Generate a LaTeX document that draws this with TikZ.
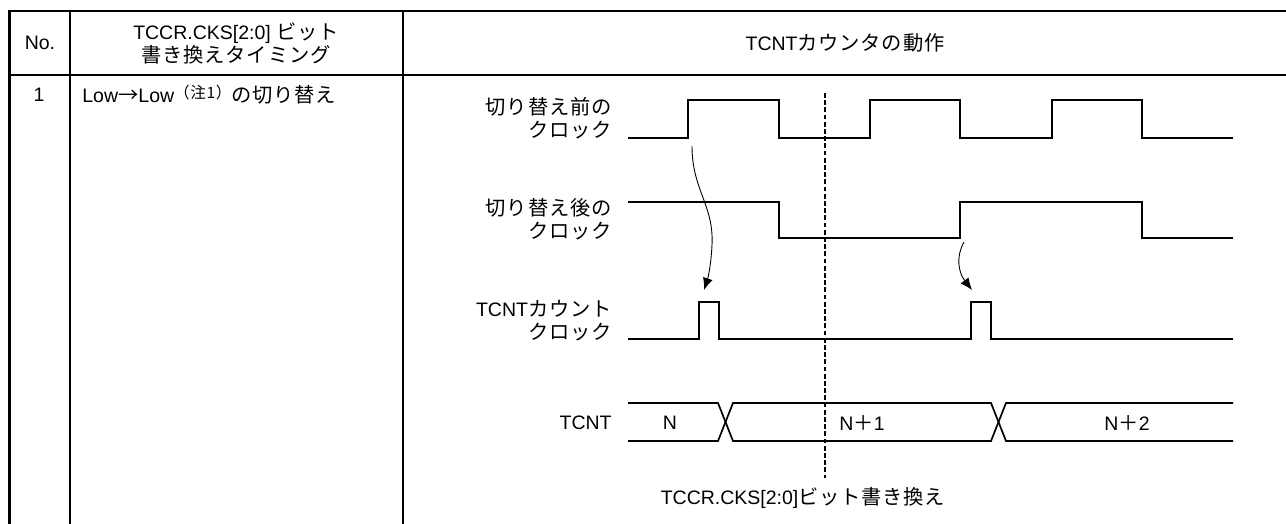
\documentclass[tikz,border=0pt]{standalone}
\usepackage{fontspec}
\setmainfont{Liberation Sans}
\newfontfamily\jp[Scale=1.04, LetterSpace=4]{Noto Sans CJK JP}
\usetikzlibrary{arrows.meta}

\begin{document}
\begin{tikzpicture}[
    x=0.5pt, y=-0.5pt,
    font=\fontsize{9.75pt}{11.5pt}\selectfont,
    grid/.style={draw=black, line width=1.45pt},
    sig/.style={draw=black, line width=0.85pt},
    marker/.style={draw=black, line width=0.8pt, dash pattern=on 2.4pt off 1.2pt},
    lbl/.style={inner sep=0pt, align=right, anchor=east},
    txt/.style={inner sep=0pt},
    arr/.style={-{Latex[length=6pt,width=5pt]}, draw=black, line width=0.45pt}
]
\useasboundingbox (0,0) rectangle (1286,524);

% table frame
\draw[grid] (9.5,530) -- (9.5,11) -- (1295,11);
\draw[grid] (9.5,75) -- (1295,75);
\draw[grid] (70,11) -- (70,530);
\draw[grid] (403,11) -- (403,530);

% header and row texts
\node[txt] (hno) at (40,43) {No.};
\node[txt, align=center] (htiming) at (236,43) {TCCR.CKS[2:0] {\jp ビット}\\{\jp 書き換えタイミング}};
\node[txt] (hcount) at (845,43) {TCNT{\jp カウンタの動作}};
\node[txt] (rno) at (39,95) {1};
\node[txt, anchor=west] (rcase) at (82,95) {Low{\jp →}Low\raisebox{2pt}{\jp\fontsize{7.5pt}{8pt}\selectfont （注1）}{\jp の切り替え}};

% signal names
\node[lbl] (lbefore) at (612,118.5) {{\jp 切り替え前の}\\{\jp クロック}};
\node[lbl] (lafter) at (612,219.5) {{\jp 切り替え後の}\\{\jp クロック}};
\node[lbl] (lcntclk) at (612,321) {TCNT{\jp カウント}\\{\jp クロック}};
\node[lbl] (ltcnt) at (612,423) {TCNT};

% waveforms
\draw[sig] (628,138) -- (688,138) -- (688,100) -- (779,100) -- (779,138) -- (870,138) -- (870,100) -- (960,100)
    -- (960,138) -- (1052,138) -- (1052,100) -- (1142,100) -- (1142,138) -- (1233,138);
\draw[sig] (628,202) -- (779,202) -- (779,238) -- (960,238) -- (960,202) -- (1142,202) -- (1142,238) -- (1233,238);
\draw[sig] (628,339) -- (699,339) -- (699,302) -- (719,302) -- (719,339) -- (971,339) -- (971,302) -- (991,302)
    -- (991,339) -- (1233,339);
\draw[sig] (628,403) -- (718,403) -- (733,441) -- (991,441) -- (1006,403) -- (1233,403);
\draw[sig] (628,441) -- (718,441) -- (733,403) -- (991,403) -- (1006,441) -- (1233,441);

% bus values
\node[txt] (vn) at (670,423) {N};
\node[txt] (vn1) at (862,423) {N{\jp ＋}1};
\node[txt] (vn2) at (1127,423) {N{\jp ＋}2};

% rewrite timing
\node[txt] (lwrite) at (803,498) {TCCR.CKS[2:0]{\jp ビット書き換え}};
\coordinate (mtop) at (825,93);
\coordinate (mbot) at (825,478);
\draw[marker] (mtop) -- (mbot);

% edge -> count pulse
\coordinate (r1) at (692,146);
\coordinate (p1) at (704,290);
\coordinate (r2) at (964,242);
\coordinate (p2) at (972,290);
\draw[arr] (r1) .. controls (692,190) and (714,205) .. (712,245) .. controls (711,265) and (708,278) .. (p1);
\draw[arr] (r2) .. controls (956,256) and (958,272) .. (p2);
\end{tikzpicture}
\end{document}
